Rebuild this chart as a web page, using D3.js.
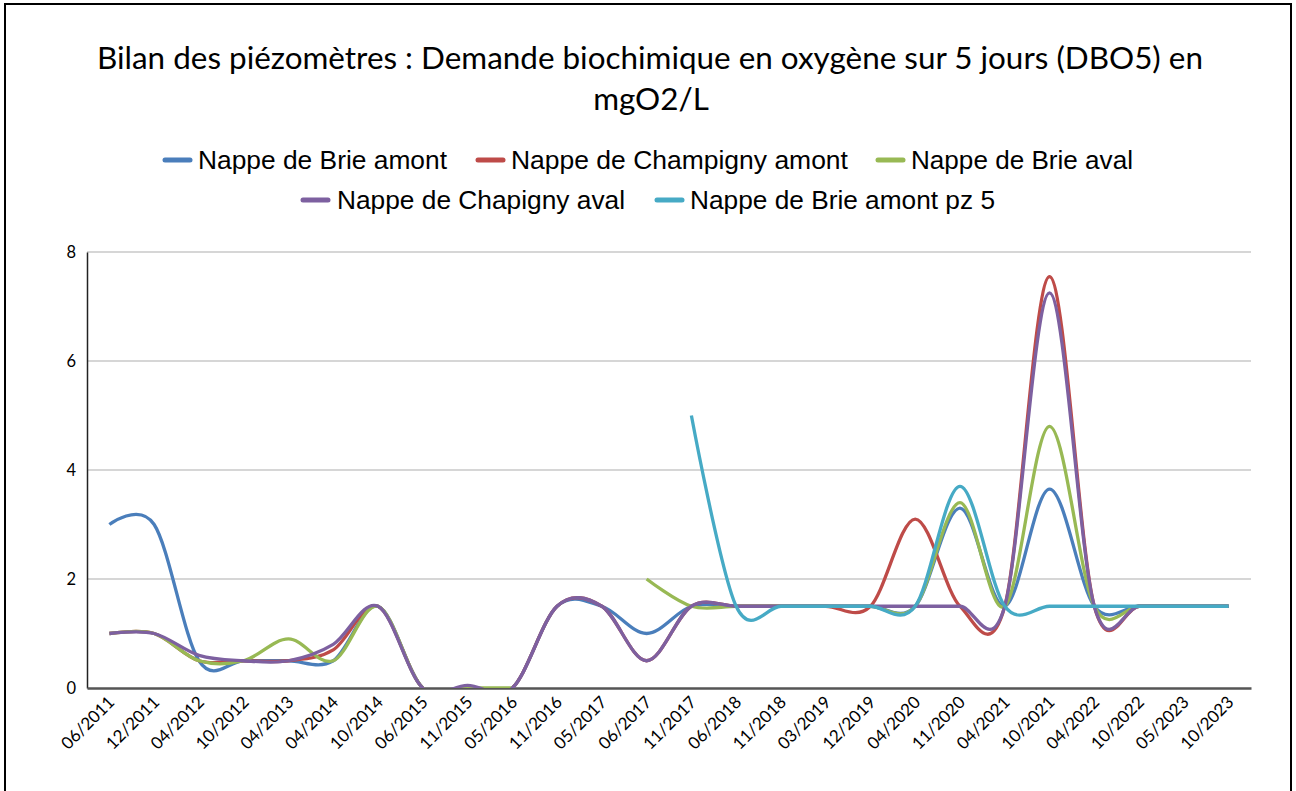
<!DOCTYPE html>
<html>
<head>
<meta charset="utf-8">
<script src="https://cdn.jsdelivr.net/npm/d3@7/dist/d3.min.js"></script>
<style>
  html, body { margin: 0; padding: 0; background: #fff; }
  svg { display: block; }
</style>
</head>
<body>
<svg id="chart" width="1296" height="791"></svg>
<script>
// ---------- DATA ----------
const categories = ["06/2011","12/2011","04/2012","10/2012","04/2013","04/2014","10/2014","06/2015","11/2015","05/2016","11/2016","05/2017","06/2017","11/2017","06/2018","11/2018","03/2019","12/2019","04/2020","11/2020","04/2021","10/2021","04/2022","10/2022","05/2023","10/2023"];
const seriesNames = ["Nappe de Brie amont","Nappe de Champigny amont","Nappe de Brie aval","Nappe de Chapigny aval","Nappe de Brie amont pz 5"];
const brieAmont      = [3.0,3.0,0.5,0.5,0.5,0.5,1.5,0,0,0,1.5,1.5,1.0,1.5,1.5,1.5,1.5,1.5,1.5,3.3,1.5,3.65,1.5,1.5,1.5,1.5];
const champignyAmont = [1.0,1.0,0.5,0.5,0.5,0.7,1.5,0,0,0,1.5,1.5,0.5,1.5,1.5,1.5,1.5,1.5,3.1,1.5,1.5,7.55,1.5,1.5,1.5,1.5];
const brieAval       = [1.0,1.0,0.5,0.5,0.9,0.5,1.5,0,0,0,null,null,2.0,1.5,1.5,1.5,1.5,1.5,1.5,3.4,1.5,4.8,1.5,1.5,1.5,1.5];
const chapignyAval   = [1.0,1.0,0.6,0.5,0.5,0.8,1.5,0,0.05,0,1.5,1.5,0.5,1.5,1.5,1.5,1.5,1.5,1.5,1.5,1.5,7.25,1.5,1.5,1.5,1.5];
const brieAmontPz5   = [null,null,null,null,null,null,null,null,null,null,null,null,null,5.0,1.5,1.5,1.5,1.5,1.5,3.7,1.5,1.5,1.5,1.5,1.5,1.5];
const yTicks = [0,2,4,6,8];
const colors = ["#4a7ebb","#be4b48","#98b954","#7d60a0","#46aac5"];
const titleLines = ["Bilan des piézomètres : Demande biochimique en oxygène sur 5 jours (DBO5) en","mgO2/L"];

const seriesValues = [brieAmont, champignyAmont, brieAval, chapignyAval, brieAmontPz5];

// ---------- LAYOUT ----------
const svg = d3.select("#chart");
const plot = {left: 87, right: 1251, top: 252, bottom: 688};

svg.append("rect").attr("x",0).attr("y",0).attr("width",1296).attr("height",791).attr("fill","#fff");
// outer frame
svg.append("rect").attr("x",5).attr("y",4).attr("width",1286).attr("height",810)
   .attr("fill","none").attr("stroke","#000").attr("stroke-width",2);

function fitText(sel, target) {
  const w = sel.node().getComputedTextLength();
  const fs = parseFloat(sel.attr("font-size"));
  sel.attr("font-size", (fs * target / w).toFixed(2));
}

// title
const t1 = svg.append("text").attr("x",650).attr("y",69).attr("text-anchor","middle")
  .attr("font-family","Lato, 'Open Sans', sans-serif").attr("font-size",28).attr("fill","#000")
  .text(titleLines[0]);
fitText(t1, 1106);
const t2 = svg.append("text").attr("x",651).attr("y",110).attr("text-anchor","middle")
  .attr("font-family","Lato, 'Open Sans', sans-serif").attr("font-size",t1.attr("font-size")).attr("fill","#000")
  .text(titleLines[1]);

// scales
const x = d3.scaleBand().domain(categories).range([plot.left, plot.right]).padding(0);
const cx = c => x(c) + x.bandwidth()/2;
const y = d3.scaleLinear().domain([0,8]).range([plot.bottom, plot.top]);

// gridlines
svg.append("g").selectAll("line").data(yTicks.filter(d => d > 0)).join("line")
  .attr("x1", plot.left).attr("x2", plot.right)
  .attr("y1", d => y(d)).attr("y2", d => y(d))
  .attr("stroke","#c9c9c9").attr("stroke-width",1.5);

// y axis
const yAxis = svg.append("g").attr("transform",`translate(${plot.left},0)`)
  .call(d3.axisLeft(y).tickValues(yTicks).tickSize(0).tickPadding(11).tickFormat(d3.format("d")));
yAxis.select(".domain").attr("stroke","#222").attr("stroke-width",1.5);
yAxis.selectAll("text").attr("font-family","Lato, 'Open Sans', sans-serif").attr("font-size",16.5).attr("fill","#000");

// lines
svg.append("clipPath").attr("id","clip").append("rect")
  .attr("x", plot.left).attr("y", plot.top - 20).attr("width", plot.right - plot.left).attr("height", plot.bottom - plot.top + 20);

const lineGen = d3.line()
  .defined(d => d.v != null)
  .x(d => cx(d.c))
  .y(d => y(d.v))
  .curve(d3.curveCardinal.tension(0));

// x axis (drawn below the series)
const xAxis = svg.append("g").attr("transform",`translate(0,${plot.bottom})`)
  .call(d3.axisBottom(x).tickSize(0).tickFormat(""));
xAxis.select(".domain").attr("stroke","#555").attr("stroke-width",2.5);

const lg = svg.append("g").attr("clip-path","url(#clip)");
seriesValues.forEach((vals, i) => {
  lg.append("path")
    .datum(categories.map((c, j) => ({c, v: vals[j]})))
    .attr("d", lineGen)
    .attr("fill","none")
    .attr("stroke", colors[i])
    .attr("stroke-width", 3.3)
    .attr("stroke-linejoin","round")
    .attr("stroke-linecap","butt");
});

// x tick labels
svg.append("g").selectAll("text").data(categories).join("text")
  .attr("transform", d => `translate(${cx(d)+2},${plot.bottom + 11}) rotate(-45)`)
  .attr("text-anchor","end")
  .attr("dy","0.35em")
  .attr("font-family","Lato, 'Open Sans', sans-serif")
  .attr("font-size",17)
  .attr("fill","#000")
  .text(d => d);

// legend
const legendItems = [
  {i:0, mx:165, tx:198, y:160, w:249},
  {i:1, mx:478, tx:511, y:160, w:337},
  {i:2, mx:878, tx:911, y:160, w:222},
  {i:3, mx:303, tx:337, y:200, w:288},
  {i:4, mx:657, tx:690, y:200, w:305}
];
const legend = svg.append("g");
legendItems.forEach(it => {
  legend.append("line").attr("x1", it.mx).attr("x2", it.mx + 25).attr("y1", it.y).attr("y2", it.y)
    .attr("stroke", colors[it.i]).attr("stroke-width", 5).attr("stroke-linecap","round");
  const t = legend.append("text").attr("x", it.tx).attr("y", it.y).attr("dy","0.35em")
    .attr("font-family","'Liberation Sans', Arial, sans-serif").attr("font-size", 24).attr("fill","#000")
    .text(seriesNames[it.i]);
  fitText(t, it.w);
});
</script>
</body>
</html>
